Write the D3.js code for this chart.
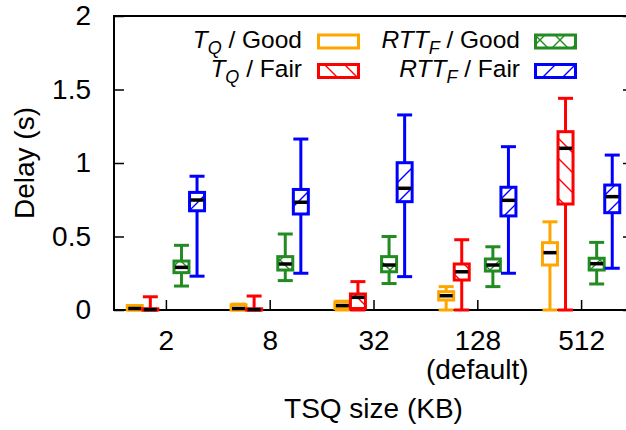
<!DOCTYPE html>
<html>
<head>
<meta charset="utf-8">
<script src="https://cdn.jsdelivr.net/npm/d3@7"></script>
<style>
  html, body { margin: 0; padding: 0; background: #fff; }
  svg { display: block; font-family: "Liberation Sans", Arial, Helvetica, sans-serif; }
</style>
</head>
<body>
<svg id="chart" width="626" height="430"></svg>
<script>
// ---- data ----
const categories = ["2", "8", "32", "128", "512"];
const categorySub = ["", "", "", "(default)", ""];
const yTickValues = [0, 0.5, 1, 1.5, 2];
const yTickLabels = ["0", "0.5", "1", "1.5", "2"];
// each entry: [whiskerLow, q1, median, q3, whiskerHigh] in seconds
const tqGood = [
  [0, 0, 0.01, 0.03, 0.03],
  [0, 0, 0.01, 0.035, 0.04],
  [0, 0.01, 0.03, 0.055, 0.06],
  [0, 0.068, 0.097, 0.125, 0.159],
  [0, 0.306, 0.39, 0.458, 0.60]
];
const tqFair = [
  [0, 0, 0.003, 0.008, 0.09],
  [0, 0, 0.003, 0.008, 0.095],
  [0, 0.01, 0.086, 0.109, 0.193],
  [0, 0.204, 0.26, 0.313, 0.478],
  [0, 0.721, 1.1, 1.213, 1.44]
];
const rttGood = [
  [0.163, 0.254, 0.29, 0.333, 0.44],
  [0.2, 0.272, 0.313, 0.363, 0.517],
  [0.18, 0.26, 0.306, 0.363, 0.5],
  [0.159, 0.265, 0.306, 0.347, 0.43],
  [0.177, 0.272, 0.315, 0.352, 0.46]
];
const rttFair = [
  [0.23, 0.675, 0.748, 0.80, 0.91],
  [0.25, 0.653, 0.733, 0.82, 1.163],
  [0.227, 0.737, 0.828, 1.002, 1.327],
  [0.25, 0.64, 0.746, 0.835, 1.111],
  [0.284, 0.662, 0.771, 0.85, 1.054]
];

// ---- layout ----
const pLeft = 114, pRight = 633, pTop = 16, pBottom = 310;
const svg = d3.select("#chart");
const x = d3.scaleLinear().domain([-0.5, 4.5]).range([pLeft, pRight]);
const y = d3.scaleLinear().domain([0, 2]).range([pBottom, pTop]);

const series = [
  { data: tqGood,  color: "#FFA500", pattern: null,    offset: -0.3,  base: "T", sub: "Q",  cond: "Good" },
  { data: tqFair,  color: "#FF0000", pattern: "back",  offset: -0.15, base: "T", sub: "Q",  cond: "Fair" },
  { data: rttGood, color: "#228B22", pattern: "cross", offset: 0.15,  base: "RTT", sub: "F", cond: "Good" },
  { data: rttFair, color: "#0000FF", pattern: "fwd",   offset: 0.3,   base: "RTT", sub: "F", cond: "Fair" }
];

// patterns
const defs = svg.append("defs");
series.forEach((s, i) => {
  if (!s.pattern) return;
  const p = defs.append("pattern").attr("id", "pat" + i)
    .attr("patternUnits", "userSpaceOnUse").attr("width", 20).attr("height", 20);
  const back = "M0,0 L20,20 M-5,15 L5,25 M15,-5 L25,5";
  const fwd = "M0,20 L20,0 M-5,5 L5,-5 M15,25 L25,15";
  const d = s.pattern === "back" ? back : s.pattern === "fwd" ? fwd : back + " " + fwd;
  p.append("path").attr("d", d).attr("stroke", s.color).attr("stroke-width", 1.4).attr("fill", "none");
});

// axes
const yAxis = d3.axisLeft(y).tickValues(yTickValues).tickFormat((d, i) => yTickLabels[i])
  .tickSizeInner(-10).tickSizeOuter(0).tickPadding(23);
const gy = svg.append("g").attr("transform", `translate(${pLeft},0)`).call(yAxis);
gy.select(".domain").remove();
gy.selectAll(".tick line").attr("stroke", "#000").attr("stroke-width", 1.5);
gy.selectAll(".tick text").attr("font-size", 28).attr("fill", "#000");
gy.attr("font-family", null).attr("font-size", null);

const yAxisR = d3.axisRight(y).tickValues(yTickValues).tickFormat("").tickSizeInner(-10).tickSizeOuter(0);
const gyr = svg.append("g").attr("transform", `translate(${pRight},0)`).call(yAxisR);
gyr.select(".domain").remove();
gyr.selectAll(".tick line").attr("stroke", "#000").attr("stroke-width", 1.5);

const xAxis = d3.axisBottom(x).tickValues(d3.range(categories.length)).tickFormat((d, i) => categories[i])
  .tickSizeInner(-10).tickSizeOuter(0).tickPadding(20);
const gx = svg.append("g").attr("transform", `translate(0,${pBottom})`).call(xAxis);
gx.select(".domain").remove();
gx.selectAll(".tick line").attr("stroke", "#000").attr("stroke-width", 1.5);
gx.selectAll(".tick text").attr("font-size", 28).attr("fill", "#000");
gx.attr("font-family", null).attr("font-size", null);
categorySub.forEach((t, i) => {
  if (!t) return;
  svg.append("text").attr("x", x(i)).attr("y", 379).attr("text-anchor", "middle")
    .attr("font-size", 28).text(t);
});

// frame
svg.append("rect").attr("x", pLeft).attr("y", pTop).attr("width", pRight - pLeft).attr("height", pBottom - pTop)
  .attr("fill", "none").attr("stroke", "#000").attr("stroke-width", 2);

// axis titles
svg.append("text").attr("x", (pLeft + pRight) / 2).attr("y", 418).attr("text-anchor", "middle")
  .attr("font-size", 28).text("TSQ size (KB)");
svg.append("text").attr("transform", `translate(34,${(pTop + pBottom) / 2}) rotate(-90)`)
  .attr("text-anchor", "middle").attr("font-size", 28).text("Delay (s)");

// boxes
const boxW = 15;
const capW = 15;
series.forEach((s, si) => {
  const g = svg.append("g");
  s.data.forEach((v, ci) => {
    const cx = x(ci + s.offset);
    const [lo, q1, med, q3, hi] = v;
    g.append("line").attr("x1", cx).attr("x2", cx).attr("y1", y(lo)).attr("y2", y(hi))
      .attr("stroke", s.color).attr("stroke-width", 3);
    g.append("line").attr("x1", cx - capW / 2).attr("x2", cx + capW / 2).attr("y1", y(hi)).attr("y2", y(hi))
      .attr("stroke", s.color).attr("stroke-width", 3);
    g.append("line").attr("x1", cx - capW / 2).attr("x2", cx + capW / 2).attr("y1", y(lo)).attr("y2", y(lo))
      .attr("stroke", s.color).attr("stroke-width", 3);
    const bh = Math.max(y(q1) - y(q3), 0.5);
    g.append("rect").attr("x", cx - boxW / 2).attr("y", y(q3)).attr("width", boxW).attr("height", bh)
      .attr("fill", "#fff");
    if (s.pattern) {
      g.append("rect").attr("x", cx - boxW / 2).attr("y", y(q3)).attr("width", boxW).attr("height", bh)
        .attr("fill", `url(#pat${si})`);
    }
    g.append("rect").attr("x", cx - boxW / 2).attr("y", y(q3)).attr("width", boxW).attr("height", bh)
      .attr("fill", "none").attr("stroke", s.color).attr("stroke-width", 3);
    g.append("line").attr("x1", cx - boxW / 2 + 1).attr("x2", cx + boxW / 2 - 1).attr("y1", y(med)).attr("y2", y(med))
      .attr("stroke", "#000").attr("stroke-width", 3.5);
  });
});

// legend
const legendPos = [
  { tx: 302, bx: 318.5, by: 35 },
  { tx: 302, bx: 318.5, by: 64.5 },
  { tx: 520, bx: 535.5, by: 35 },
  { tx: 520, bx: 535.5, by: 64.5 }
];
const legendBase = [48, 77, 48, 77];
series.forEach((s, si) => {
  const lp = legendPos[si];
  const t = svg.append("text").attr("x", lp.tx).attr("y", legendBase[si]).attr("text-anchor", "end")
    .attr("font-size", 24.5);
  t.append("tspan").attr("font-style", "italic").text(s.base);
  t.append("tspan").attr("font-style", "italic").attr("font-size", 18).attr("dy", 6).text(s.sub);
  t.append("tspan").attr("dy", -6).text("\u00a0/ " + s.cond);
  svg.append("rect").attr("x", lp.bx).attr("y", lp.by).attr("width", 40).attr("height", 13).attr("fill", "#fff");
  if (s.pattern) {
    svg.append("rect").attr("x", lp.bx).attr("y", lp.by).attr("width", 40).attr("height", 13)
      .attr("fill", `url(#pat${si})`);
  }
  svg.append("rect").attr("x", lp.bx).attr("y", lp.by).attr("width", 40).attr("height", 13)
    .attr("fill", "none").attr("stroke", s.color).attr("stroke-width", 3);
});
</script>
</body>
</html>
